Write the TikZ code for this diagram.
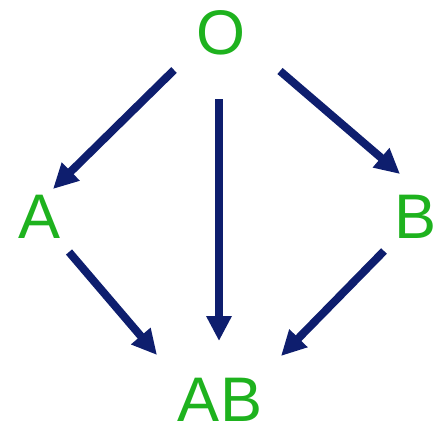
\documentclass[tikz,border=0pt]{standalone}
\usepackage{fontspec}
\setmainfont{Liberation Sans}
\usetikzlibrary{arrows.meta}
\definecolor{navy}{RGB}{14,30,110}
\definecolor{lgreen}{RGB}{30,178,30}
\begin{document}
\begin{tikzpicture}[x=1pt,y=-1pt,
    lbl/.style={anchor=base,inner sep=0pt,text=lgreen,font=\fontsize{63}{63}\selectfont},
    arr/.style={draw=navy,line width=8pt,-{Triangle[length=25pt,width=24pt]}}]
        \useasboundingbox (0,0) rectangle (435,424);
        \node[lbl] (O) at (221,54) {O};
        \node[lbl] (A) at (40,238) {A};
        \node[lbl] (B) at (416,238) {B};
        \node[lbl] (AB) at (220,421) {AB};
        \draw[arr] ([shift={(-47,16)}]O.base) -- ([shift={(13,-49)}]A.base);
        \draw[arr] ([shift={(-2,45)}]O.base) -- ([shift={(-1,-80)}]AB.base);
        \draw[arr] ([shift={(59,17)}]O.base) -- ([shift={(-16,-64)}]B.base);
        \draw[arr] ([shift={(29,14)}]A.base) -- ([shift={(-63,-66)}]AB.base);
        \draw[arr] ([shift={(-32,13)}]B.base) -- ([shift={(61,-65)}]AB.base);
      \end{tikzpicture}
\end{document}
